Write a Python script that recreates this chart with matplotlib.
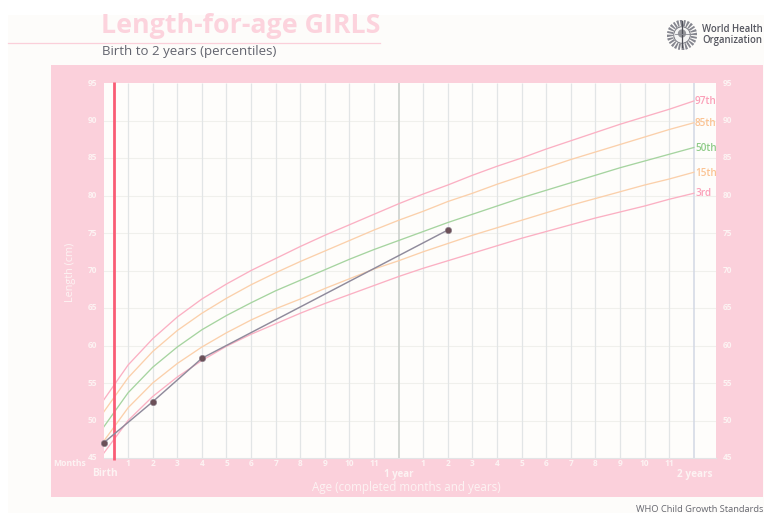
import matplotlib
matplotlib.use("Agg")
import matplotlib.pyplot as plt
from matplotlib.patches import Rectangle, Circle, Ellipse

months = list(range(25))
p3 = [45.6,50.0,53.2,55.8,58.0,59.9,61.5,62.9,64.3,65.6,66.8,68.0,69.2,70.3,71.3,72.3,73.3,74.3,75.2,76.1,77.0,77.8,78.6,79.5,80.3]
p15 = [47.2,51.7,55.0,57.6,59.8,61.7,63.4,64.9,66.2,67.6,68.9,70.2,71.3,72.5,73.6,74.7,75.7,76.7,77.7,78.7,79.6,80.5,81.4,82.2,83.1]
p50 = [49.1,53.7,57.1,59.8,62.1,64.0,65.7,67.3,68.7,70.1,71.5,72.8,74.0,75.2,76.4,77.5,78.6,79.7,80.7,81.7,82.7,83.7,84.6,85.5,86.4]
p85 = [51.1,55.7,59.2,62.0,64.3,66.3,68.1,69.7,71.2,72.6,74.0,75.4,76.7,77.9,79.2,80.3,81.5,82.6,83.7,84.8,85.8,86.8,87.8,88.8,89.7]
p97 = [52.7,57.4,60.9,63.8,66.2,68.2,70.0,71.6,73.2,74.7,76.1,77.5,78.9,80.2,81.4,82.7,83.9,85.0,86.2,87.3,88.4,89.5,90.5,91.5,92.6]
child_age = [0, 2, 4, 14]
child_len = [47.0, 52.5, 58.3, 75.4]
red_age = 0.42
y_ticks = [45, 50, 55, 60, 65, 70, 75, 80, 85, 90, 95]
month_labels = [1,2,3,4,5,6,7,8,9,10,11,None,1,2,3,4,5,6,7,8,9,10,11]

W, H = 764, 513
PINK = "#fbd0db"
TXT = "#fdf3f3"
plt.rcParams['font.family'] = ['Open Sans', 'DejaVu Sans']
fig = plt.figure(figsize=(W/100, H/100), dpi=100, facecolor="white")

def fx(x): return x / W
def fy(y): return 1 - y / H

fig.add_artist(Rectangle((fx(8), 0), 1 - fx(8), fy(15), transform=fig.transFigure, fc="#fdfcfa", ec="none", zorder=-3))
fig.add_artist(Rectangle((fx(51), fy(497)), fx(763-51), fy(65)-fy(497), transform=fig.transFigure, fc=PINK, ec="none", zorder=-2))
fig.add_artist(plt.Line2D([fx(8), fx(380)], [fy(42.5)]*2, color="#fbcfda", lw=0.9, zorder=-1))

fig.text(fx(101), fy(26), "Length-for-age GIRLS", color="#fcd3dd", fontsize=19.3, fontweight="bold", va="center", ha="left")
fig.text(fx(102), fy(52), "Birth to 2 years (percentiles)", color="#62646e", fontsize=9.5, va="center", ha="left")
fig.text(fx(702), fy(30), "World Health", color="#55565f", fontsize=6.9, fontweight="semibold", va="center", ha="left")
fig.text(fx(702), fy(41), "Organization", color="#55565f", fontsize=6.9, fontweight="semibold", va="center", ha="left")
fig.text(fx(763), fy(509), "WHO Child Growth Standards", color="#66676f", fontsize=6.65, va="center", ha="right")

# emblem
em = fig.add_axes([fx(665), fy(50), fx(34), fy(20)-fy(50)])
em.set_xlim(-1, 1); em.set_ylim(-1, 1); em.set_aspect("equal"); em.axis("off")
em.add_patch(Circle((0, 0), 0.8, fc="none", ec="#85868f", lw=4.5, ls=(0, (0.3, 0.2))))
em.add_patch(Circle((0, 0), 0.55, fc="#f4f4f4", ec="#666770", lw=0.6))
em.plot([0, 0], [-0.8, 0.95], color="#4d4e57", lw=0.9)
em.plot([-0.5, 0.5], [0.05, 0.05], color="#8a8b93", lw=0.6)
em.add_patch(Ellipse((0, 0.1), 0.55, 0.55, fc="#55565f", ec="none", alpha=0.6))

ax = fig.add_axes([fx(103.5), fy(458), fx(716-103.5), fy(83)-fy(458)])
ax.set_facecolor("#fefdfb")
ax.set_xlim(0, 24.9)
ax.set_ylim(45, 95)
for s in ax.spines.values():
    s.set_visible(False)
ax.spines["bottom"].set_visible(True)
ax.spines["bottom"].set_color("#e3e4e6")
ax.tick_params(length=0, labelbottom=False, labelleft=False)

for y in y_ticks[1:-1]:
    ax.axhline(y, color="#f0f0ec", lw=0.8, zorder=1)
for m in range(1, 25):
    c, lw = "#e2e5e6", 0.9
    if m == 12:
        c, lw = "#ccd1cd", 1.2
    if m == 24:
        c, lw = "#d2d8e4", 1.1
    ax.plot([m, m], [45, 95], color=c, lw=lw, zorder=1, solid_capstyle="butt")

series = [(p97, "#fbb0c3", "97th", "#fb9fb8"), (p85, "#fbd0ab", "85th", "#fbc393"),
          (p50, "#a6d4a0", "50th", "#8fcb88"), (p15, "#fbd0ab", "15th", "#fbc393"),
          (p3, "#fbb0c3", "3rd", "#fb9fb8")]
for vals, c, lab, tc in series:
    ax.plot(months, vals, color=c, lw=0.95, zorder=2)
    ax.text(24.05, vals[-1] - 0.1, lab, color=tc, fontsize=7.2, fontweight="semibold", va="center", ha="left", zorder=4)

ax.plot([red_age, red_age], [44.8, 95.2], color="#f95c75", lw=2.0, zorder=3, clip_on=False, solid_capstyle="butt")
ax.plot(child_age, child_len, color="#908b9c", lw=1.05, zorder=4, clip_on=False)
ax.plot(child_age, child_len, ls="none", marker="o", ms=4.6, mfc="#6c5058", mec="#8d8490", mew=0.4, zorder=5, clip_on=False)

for y in y_ticks:
    ax.annotate(str(y), xy=(0, y), xycoords=("axes fraction", "data"), xytext=(-6, 0), textcoords="offset pixels",
                color=TXT, fontsize=6, fontweight="bold", ha="right", va="center")
    ax.annotate(str(y), xy=(1, y), xycoords=("axes fraction", "data"), xytext=(7, 0), textcoords="offset pixels",
                color=TXT, fontsize=6, fontweight="bold", ha="left", va="center")
for i, lab in enumerate(month_labels, start=1):
    if lab is None:
        continue
    ax.annotate(str(lab), xy=(i, 45), xycoords="data", xytext=(0, -6), textcoords="offset pixels",
                color=TXT, fontsize=6, fontweight="bold", ha="center", va="center", annotation_clip=False)

fig.text(fx(69.5), fy(463), "Months", color=TXT, fontsize=6.2, fontweight="bold", ha="center", va="center")
for x, lab, fs in [(105, "Birth", 7.4), (399, "1 year", 7.0), (695, "2 years", 7.2)]:
    fig.text(fx(x), fy(474), lab, color=TXT, fontsize=fs, fontweight="bold", ha="center", va="center")
fig.text(fx(406), fy(488), "Age (completed months and years)", color=TXT, fontsize=8.4, ha="center", va="center")
fig.text(fx(71), fy(272), "Length (cm)", color=TXT, fontsize=7.8, rotation=90, ha="center", va="center")

fig.savefig("out.png", dpi=100, facecolor=fig.get_facecolor())
